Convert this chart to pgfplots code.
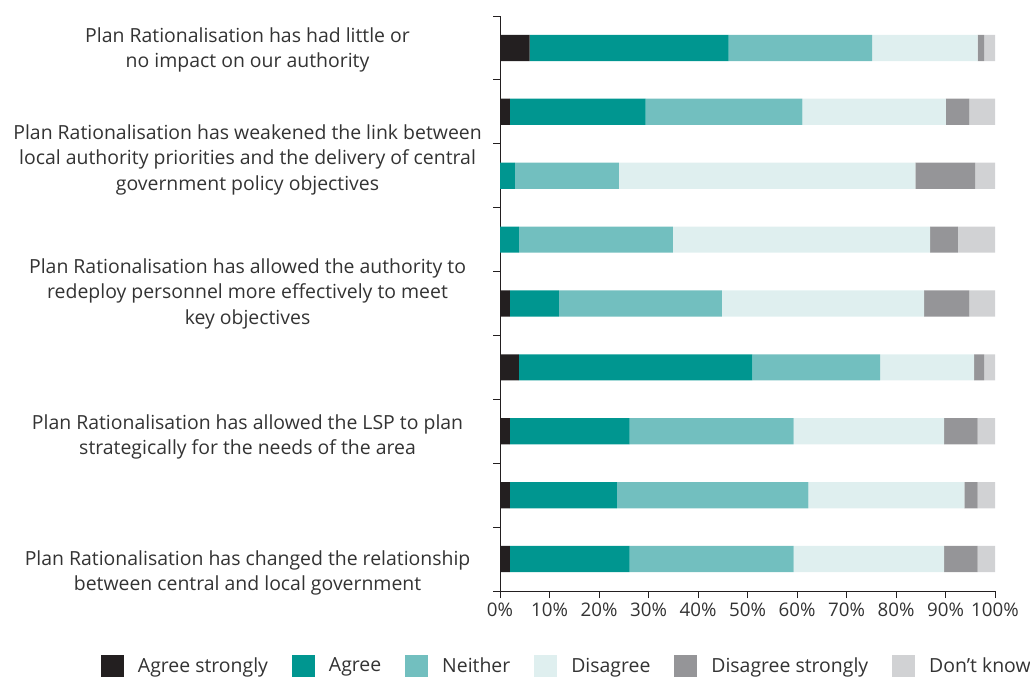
\documentclass[border=0pt]{standalone}
\usepackage{fontspec}
\setmainfont{Open Sans}
\usepackage{pgfplots}
\pgfplotsset{compat=1.18}

\definecolor{cAS}{HTML}{231F20}
\definecolor{cA}{HTML}{009690}
\definecolor{cN}{HTML}{72BFBF}
\definecolor{cD}{HTML}{DFEFEF}
\definecolor{cDS}{HTML}{959598}
\definecolor{cDK}{HTML}{D1D2D4}
\definecolor{txt}{HTML}{333333}

\pgfplotsset{
  sq/.style={legend image code/.code={\fill[##1] (0bp,-11bp) rectangle (23bp,11bp);}},
}

\begin{document}
\begin{tikzpicture}
\path[use as bounding box] (0bp,0bp) rectangle (1030bp,678bp);
\begin{axis}[
  at={(500bp,87bp)}, anchor=south west,
  scale only axis, width=495bp, height=575bp,
  xbar stacked, bar width=0.41,
  xmin=0, xmax=100, ymin=0, ymax=9, y dir=reverse,
  axis x line*=bottom, axis y line*=left,
  axis line style={cAS, line width=1bp},
  xtick={0,10,...,100}, ytick={0,...,9}, yticklabels={},
  xticklabel={\pgfmathprintnumber{\tick}\%},
  /pgf/number format/assume math mode=true,
  tick align=outside, major tick length=7bp,
  tick style={cAS, line width=1bp},
  xticklabel style={font=\fontsize{18.8}{20}\selectfont, text=txt, yshift=-1bp},
  clip=false,
  legend columns=6,
  legend style={at={(0.135,-0.130)}, anchor=center, draw=none,
    font=\fontsize{19.5}{21}\selectfont, text=txt,
    /tikz/every odd column/.append style={column sep=12bp},
    /tikz/every even column/.append style={column sep=22bp}},
]
% order: Agree strongly, Agree, Neither, Disagree, Disagree strongly, Don't know
\addplot[fill=cAS, draw=none, sq] coordinates {(6.0,0.5) (2.0,1.5) (0,2.5) (0,3.5) (2.0,4.5) (3.8,5.5) (2.0,6.5) (2.0,7.5) (2.0,8.5)};
\addplot[fill=cA, draw=none, sq] coordinates {(40.2,0.5) (27.4,1.5) (3.0,2.5) (3.8,3.5) (9.9,4.5) (47.2,5.5) (24.2,6.5) (21.6,7.5) (24.2,8.5)};
\addplot[fill=cN, draw=none, sq] coordinates {(29.0,0.5) (31.7,1.5) (21.0,2.5) (31.1,3.5) (32.9,4.5) (25.8,5.5) (33.1,6.5) (38.7,7.5) (33.1,8.5)};
\addplot[fill=cD, draw=none, sq] coordinates {(21.3,0.5) (29.0,1.5) (59.9,2.5) (52.0,3.5) (40.9,4.5) (19.0,5.5) (30.4,6.5) (31.5,7.5) (30.4,8.5)};
\addplot[fill=cDS, draw=none, sq] coordinates {(1.3,0.5) (4.7,1.5) (12.1,2.5) (5.6,3.5) (9.1,4.5) (2.0,5.5) (6.8,6.5) (2.7,7.5) (6.8,8.5)};
\addplot[fill=cDK, draw=none, sq] coordinates {(2.2,0.5) (5.2,1.5) (4.0,2.5) (7.5,3.5) (5.2,4.5) (2.2,5.5) (3.5,6.5) (3.5,7.5) (3.5,8.5)};
\legend{Agree strongly, Agree, Neither, Disagree, Disagree strongly, Don’t know}

\tikzset{lab/.style={align=center, text=txt, font=\fontsize{19.5}{25.5}\selectfont}}
\node[lab] at (axis cs:-51,0.53) {Plan Rationalisation has had little or\\no impact on our authority};
\node[lab] at (axis cs:-51,2.25) {Plan Rationalisation has weakened the link between\\local authority priorities and the delivery of central\\government policy objectives};
\node[lab] at (axis cs:-51,4.35) {Plan Rationalisation has allowed the authority to\\redeploy personnel more effectively to meet\\key objectives};
\node[lab] at (axis cs:-51,6.59) {Plan Rationalisation has allowed the LSP to plan\\strategically for the needs of the area};
\node[lab] at (axis cs:-51,8.72) {Plan Rationalisation has changed the relationship\\between central and local government};
\end{axis}
\end{tikzpicture}
\end{document}
